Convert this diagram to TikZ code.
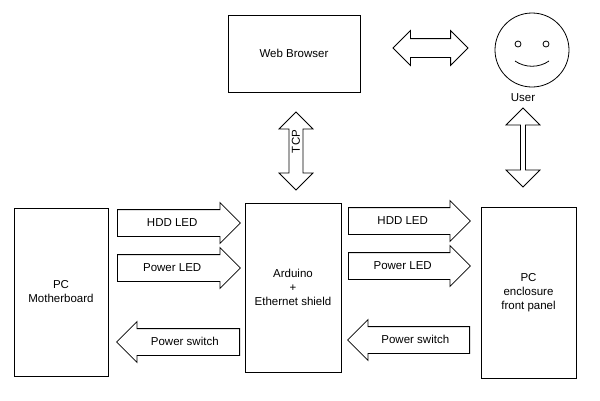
\documentclass[tikz,border=0pt]{standalone}
\usepackage{fontspec}
\setmainfont{Liberation Sans}
\usetikzlibrary{shapes.arrows}
\tikzset{
  box/.style={draw, thick, fill=white, align=center, font=\fontsize{11.5}{14}\selectfont},
  sig/.style={single arrow, draw, thick, single arrow head extend=7pt, single arrow tip angle=90,
    minimum width=40pt, text height=8pt, text depth=2pt, inner ysep=8pt, inner xsep=2pt,
    font=\fontsize{11.5}{14}\selectfont},
  link/.style={double arrow, draw, thick, double arrow head extend=8pt, double arrow tip angle=90,
    minimum width=34pt, text height=6pt, text depth=2pt, inner ysep=5pt, inner xsep=1pt,
    font=\fontsize{11.5}{14}\selectfont}
}
\begin{document}
\begin{tikzpicture}[x=1pt,y=-1pt]
\useasboundingbox (0,0) rectangle (600,400);
\node (browser) at (294,53.5) [box,minimum width=132pt,minimum height=77pt] {Web Browser};
\node (board) at (61,292) [box,minimum width=94pt,minimum height=168pt] {PC\\Motherboard};
\node (arduino) at (293,287.5) [box,minimum width=96pt,minimum height=169pt] {Arduino\\+\\Ethernet shield};
\node (panel) at (528.5,292.5) [box,minimum width=95pt,minimum height=171pt] {PC\\enclosure\\front panel};
% smiley
\node (user) at (532,50) [draw,thick,circle,minimum size=74pt] {};
\draw[thick] (518,44) circle (3pt) (546,44) circle (3pt);
\draw[thick] (515,61) .. controls (525,68) and (539,68) .. (549,61);
\node (userlbl) at (523,98) [font=\fontsize{11.5}{14}\selectfont] {User};
% links
\node (web) at (430.5,48) [link,minimum height=75pt] {};
\node (tcp) at (296,151) [link,minimum height=78pt,shape border rotate=90] {\rotatebox{90}{TCP}};
\node (front) at (523,147.5) [link,minimum height=79pt,shape border rotate=90] {};
% signals
\node (hdd1) at (117,223) [sig,anchor=tail,minimum height=123pt] {HDD LED};
\node (pwr1) at (117,268) [sig,anchor=tail,minimum height=123pt] {Power LED};
\node (sw1) at (240,342) [sig,anchor=tail,minimum height=123pt,shape border rotate=180] {Power switch};
\node (hdd2) at (348,221) [sig,anchor=tail,minimum height=122pt] {HDD LED};
\node (pwr2) at (348,266) [sig,anchor=tail,minimum height=122pt] {Power LED};
\node (sw2) at (470,340) [sig,anchor=tail,minimum height=122pt,shape border rotate=180] {Power switch};
\end{tikzpicture}
\end{document}
